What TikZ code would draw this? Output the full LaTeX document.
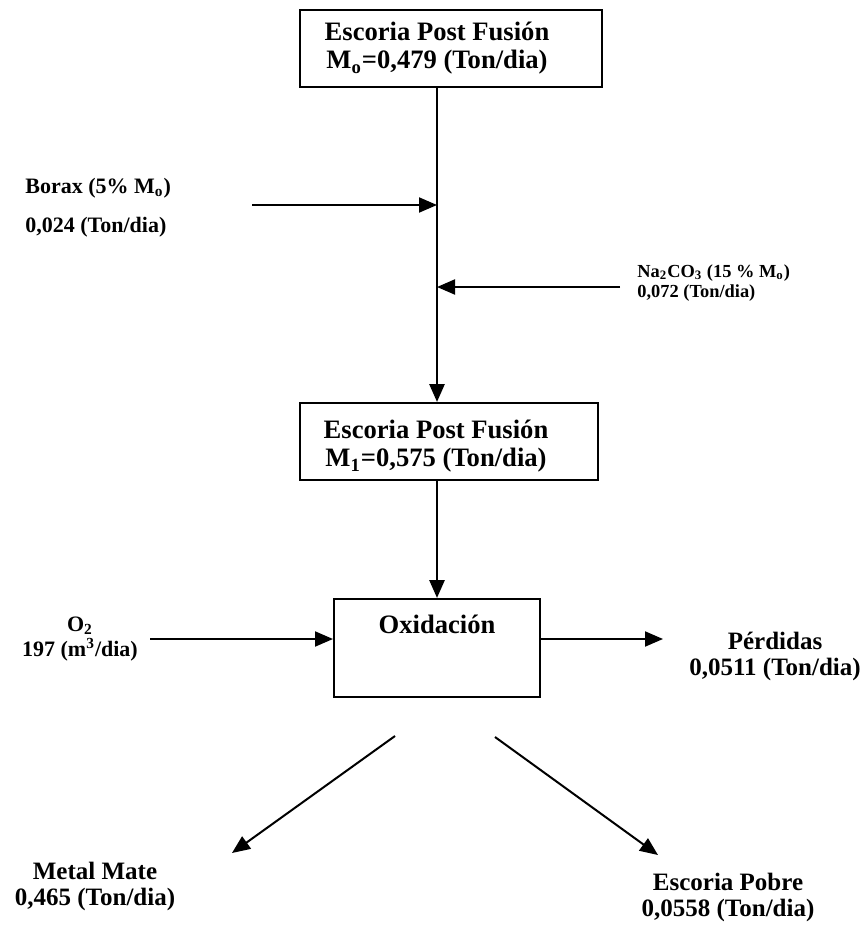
\documentclass[tikz,border=0pt]{standalone}
\usepackage{fontspec}
\setmainfont{Liberation Serif}
\usetikzlibrary{arrows.meta}

\newcommand{\fuenteCaja}{\fontsize{13.3}{14}\selectfont\bfseries}
\newcommand{\fuenteLado}{\fontsize{11}{19.5}\selectfont\bfseries}
\newcommand{\fuenteNa}{\fontsize{9.2}{10}\selectfont\bfseries}
\newcommand{\fuenteOx}{\fontsize{11}{12.5}\selectfont\bfseries}
\newcommand{\fuenteSal}{\fontsize{12.5}{13}\selectfont\bfseries}

\begin{document}
\begin{tikzpicture}[
                x=0.5pt, y=-0.5pt,
                caja/.style={draw, line width=1pt, inner sep=0pt},
                flecha/.style={-{Triangle[length=9pt,width=7.5pt]}, line width=1pt},
                texto/.style={inner sep=0pt, align=center}
            ]
            \useasboundingbox (0,0) rectangle (866,925);

            \node[caja, minimum width=151pt, minimum height=38.5pt,
                label={[texto, font=\fuenteCaja, xshift=-7pt]center:{Escoria Post Fusión\\M\textsubscript{o}=0,479 (Ton/dia)}}]
                (esc0) at (451,48.5) {};
            \node[caja, minimum width=149pt, minimum height=38.5pt,
                label={[texto, font=\fuenteCaja, xshift=-6.5pt, yshift=-2.5pt]center:{Escoria Post Fusión\\M\textsubscript{1}=0,575 (Ton/dia)}}]
                (esc1) at (449,441.5) {};
            \node[caja, minimum width=103pt, minimum height=49pt,
                label={[texto, font=\fuenteCaja, anchor=center, yshift=-13pt]north:{Oxidación}}]
                (oxi) at (437,648) {};

            \node[texto, align=left, anchor=west, font=\fuenteLado] (borax) at (25,207.5)
                {Borax (5\% M\textsubscript{o})\\0,024 (Ton/dia)};
            \node[texto, align=left, anchor=west, font=\fuenteNa] (na2co3) at (637,283)
                {Na\textsubscript{2}CO\textsubscript{3} (15 \% M\textsubscript{o})\\0,072 (Ton/dia)};
            \node[texto, font=\fuenteOx] (o2) at (80,639) {O\textsubscript{2}\\197 (m\textsuperscript{3}/dia)};
            \node[texto, font=\fuenteSal] (perd) at (775,656) {Pérdidas\\0,0511 (Ton/dia)};
            \node[texto, font=\fuenteSal] (mate) at (95,886) {Metal Mate\\0,465 (Ton/dia)};
            \node[texto, font=\fuenteSal] (pobre) at (728,897) {Escoria Pobre\\0,0558 (Ton/dia)};

            \coordinate (bx) at (252,205);
            \coordinate (nx) at (620,287);
            \coordinate (ox) at (150,639);
            \coordinate (px) at (663,639);
            \coordinate (dmate) at (395,736);
            \coordinate (fmate) at (232,853);
            \coordinate (dpobre) at (495,737);
            \coordinate (fpobre) at (658,855);

            \draw[flecha, line width=1.4pt] (esc0.south -| oxi) -- (esc1.north -| oxi);
            \draw[flecha, line width=1.4pt] (esc1.south -| oxi) -- (oxi.north);
            \draw[flecha] (bx) -- (bx -| oxi);
            \draw[flecha] (nx) -- (nx -| oxi);
            \draw[flecha] (ox) -- (ox -| oxi.west);
            \draw[flecha] (px -| oxi.east) -- (px);
            \draw[flecha] (dmate) -- (fmate);
            \draw[flecha] (dpobre) -- (fpobre);

        \end{tikzpicture}
\end{document}
